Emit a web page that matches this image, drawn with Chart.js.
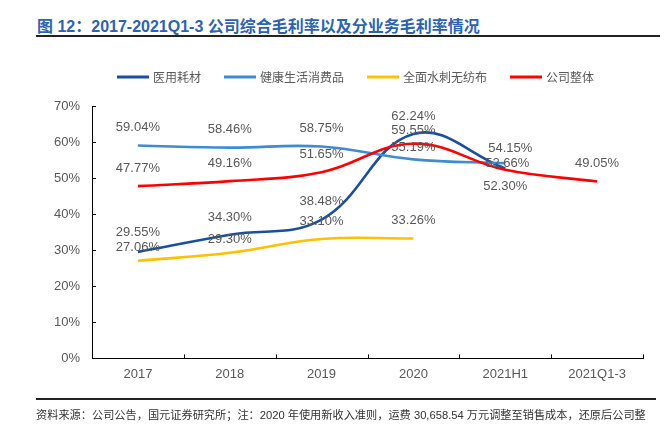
<!DOCTYPE html>
<html>
<head>
<meta charset="utf-8">
<script src="https://cdn.jsdelivr.net/npm/chart.js@4.4.1/dist/chart.umd.min.js"></script>
<style>
  html, body { margin: 0; padding: 0; background: #fff; }
  #wrap { position: relative; width: 670px; height: 434px; overflow: hidden; }
  #title { position: absolute; left: 37px; top: 13px; font: bold 16px "Liberation Sans", "Noto Sans CJK SC", sans-serif; color: #2e63ad; white-space: nowrap; }
  #tline { position: absolute; left: 36px; top: 34.5px; width: 624px; height: 2px; background: #222; }
  #fline { position: absolute; left: 36px; top: 398px; width: 620px; height: 2px; background: #222; }
  #foot { position: absolute; left: 36px; top: 406px; font: 11.2px "Liberation Sans", "Noto Sans CJK SC", sans-serif; color: #333; white-space: nowrap; }
  canvas { position: absolute; left: 0; top: 0; }
</style>
</head>
<body>
<div id="wrap">
  <div id="title">图 12：2017-2021Q1-3 公司综合毛利率以及分业务毛利率情况</div>
  <div id="tline"></div>
  <canvas id="c" width="670" height="434"></canvas>
  <div id="fline"></div>
  <div id="foot">资料来源：公司公告，国元证券研究所；注：2020 年使用新收入准则，运费 30,658.54 万元调整至销售成本，还原后公司整</div>
</div>
<script>
const categories = ['2017', '2018', '2019', '2020', '2021H1', '2021Q1-3'];
const seriesNames = ['医用耗材', '健康生活消费品', '全面水刺无纺布', '公司整体'];
const medical = [29.55, 34.30, 38.48, 62.24, 52.66, null];
const health = [59.04, 58.46, 58.75, 55.19, 54.15, null];
const nonwoven = [27.06, 29.30, 33.10, 33.26, null, null];
const overall = [47.77, 49.16, 51.65, 59.55, 52.30, 49.05];
const yTicks = [0, 10, 20, 30, 40, 50, 60, 70];

// label placement (pixels relative to point), kept apart from data
const labelDy = [
  [-19, -17.5, -18, -18, -5],
  [-18, -18, -18, -12, -14.5],
  [-13.5, -13, -18, -18],
  [-18, -17.5, -18, -13, 17, -18]
];
const labelDx = [
  [0, 0, 0, 0, 2],
  [0, 0, 0, 0, 5],
  [0, 0, 0, 0],
  [0, 0, 0, 0, 0, 0]
];
const colors = ['#1a4f9e', '#3f8bd2', '#ffc000', '#ff0000'];

const labelPlugin = {
  id: 'labels',
  afterDatasetsDraw(chart) {
    const ctx = chart.ctx;
    ctx.save();
    ctx.font = '13px "Liberation Sans", Arial, sans-serif';
    ctx.fillStyle = '#595959';
    ctx.textAlign = 'center';
    ctx.textBaseline = 'middle';
    chart.data.datasets.forEach((ds, di) => {
      const meta = chart.getDatasetMeta(di);
      meta.data.forEach((pt, i) => {
        const v = ds.data[i];
        if (v === null || v === undefined) return;
        const dy = (labelDy[di][i] !== undefined) ? labelDy[di][i] : -18;
        const dx = (labelDx[di][i] !== undefined) ? labelDx[di][i] : 0;
        ctx.fillText(v.toFixed(2) + '%', pt.x + dx, pt.y + dy);
      });
    });
    ctx.restore();
  }
};

const axisTickPlugin = {
  id: 'innerTicks',
  afterDraw(chart) {
    const ctx = chart.ctx;
    const y = chart.scales.y;
    const area = chart.chartArea;
    ctx.save();
    ctx.strokeStyle = '#000';
    ctx.lineWidth = 1;
    ctx.beginPath();
    yTicks.forEach(t => {
      const py = Math.round(y.getPixelForValue(t)) + 0.5;
      ctx.moveTo(area.left, py);
      ctx.lineTo(area.left + 4, py);
    });
    const n = categories.length;
    for (let k = 1; k <= n; k++) {
      const px = Math.round(area.left + (area.right - area.left) * k / n) + 0.5;
      ctx.moveTo(px, area.bottom);
      ctx.lineTo(px, area.bottom - 4);
    }
    ctx.stroke();
    ctx.restore();
  }
};

const legendPlugin = {
  id: 'customLegend',
  afterDraw(chart) {
    const ctx = chart.ctx;
    ctx.save();
    ctx.font = '12px "Noto Sans CJK SC", sans-serif';
    const lineW = 32, gapText = 4, gapItem = 23;
    const widths = chart.data.datasets.map(ds => lineW + gapText + ctx.measureText(ds.label).width);
    const total = widths.reduce((a, b) => a + b, 0) + gapItem * (widths.length - 1);
    let x = 355.5 - total / 2;
    const cy = 77;
    chart.data.datasets.forEach((ds, i) => {
      ctx.strokeStyle = ds.borderColor;
      ctx.lineWidth = 3;
      ctx.beginPath();
      ctx.moveTo(x, cy);
      ctx.lineTo(x + lineW, cy);
      ctx.stroke();
      ctx.fillStyle = '#595959';
      ctx.textAlign = 'left';
      ctx.textBaseline = 'middle';
      ctx.fillText(ds.label, x + lineW + gapText, cy + 0.5);
      x += widths[i] + gapItem;
    });
    ctx.restore();
  }
};

const seriesData = [medical, health, nonwoven, overall];
const orders = [3, 2, 1, 0];

new Chart(document.getElementById('c'), {
  type: 'line',
  data: {
    labels: categories,
    datasets: seriesData.map((d, i) => ({
      label: seriesNames[i],
      data: d,
      borderColor: colors[i],
      backgroundColor: colors[i],
      borderWidth: 2.6,
      pointRadius: 0,
      tension: 0.4,
      fill: false,
      spanGaps: false,
      order: orders[i]
    }))
  },
  options: {
    responsive: false,
    animation: false,
    devicePixelRatio: 1,
    layout: { padding: { top: 106, right: 27, bottom: 44, left: 0 } },
    plugins: {
      legend: { display: false },
      tooltip: { enabled: false },
      title: { display: false }
    },
    scales: {
      x: {
        offset: true,
        grid: { display: false, drawTicks: false },
        border: { display: true, color: '#000', width: 1 },
        ticks: { padding: 8, color: '#595959', font: { family: '"Liberation Sans", Arial, sans-serif', size: 13 } }
      },
      y: {
        min: 0, max: 70,
        afterFit(scale) { scale.width = 92; },
        afterBuildTicks(scale) { scale.ticks = yTicks.map(v => ({ value: v })); },
        grid: { display: false, drawTicks: false },
        border: { display: true, color: '#000', width: 1 },
        ticks: { padding: 12, color: '#595959', font: { family: '"Liberation Sans", Arial, sans-serif', size: 13 }, callback: v => v + '%' }
      }
    }
  },
  plugins: [labelPlugin, axisTickPlugin, legendPlugin]
});
</script>
</body>
</html>
